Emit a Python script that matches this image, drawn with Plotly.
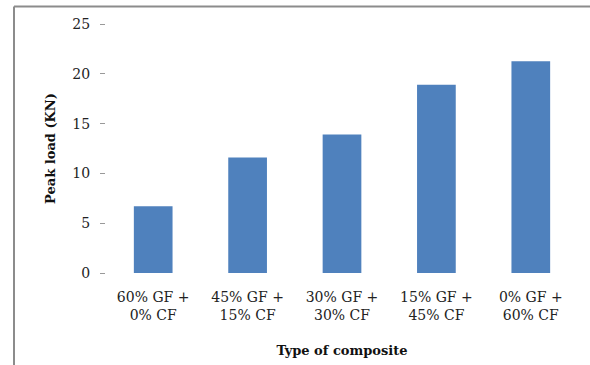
import plotly.graph_objects as go

# Composite mixes and measured peak loads
composites = [
    "60% GF +<br>0% CF",
    "45% GF +<br>15% CF",
    "30% GF +<br>30% CF",
    "15% GF +<br>45% CF",
    "0% GF +<br>60% CF",
]
peak_load_kn = [6.7, 11.6, 13.9, 18.9, 21.25]
y_ticks = [0, 5, 10, 15, 20, 25]

SERIF = "DejaVu Serif, Liberation Serif, serif"

fig = go.Figure(
    go.Bar(
        x=composites,
        y=peak_load_kn,
        marker=dict(color="#4F81BD", line=dict(width=0)),
        width=0.41,
    )
)

fig.update_layout(
    width=590,
    height=365,
    margin=dict(l=106, r=12, t=24, b=92),
    paper_bgcolor="white",
    plot_bgcolor="white",
    showlegend=False,
    font=dict(family=SERIF, size=14, color="#222"),
    bargap=0.59,
)

fig.update_xaxes(
    automargin=False,
    showline=False,
    showgrid=False,
    ticks="",
    tickfont=dict(family=SERIF, size=14, color="#222"),
    ticklabelstandoff=14,
    title=dict(
        text="<b>Type of composite</b>",
        font=dict(family=SERIF, size=13, color="#111"),
        standoff=23,
    ),
)

fig.update_yaxes(
    automargin=False,
    range=[0, 25],
    tickvals=y_ticks,
    showline=False,
    showgrid=False,
    zeroline=False,
    ticks="outside",
    ticklen=5,
    tickcolor="#999",
    tickfont=dict(family=SERIF, size=14, color="#222"),
    ticklabelstandoff=7,
    title=dict(
        text="<b>Peak load (KN)</b>",
        font=dict(family=SERIF, size=13, color="#111"),
        standoff=13,
    ),
)

# Partial frame around the chart: left and top edges
fig.add_shape(
    type="line", xref="paper", yref="paper",
    x0=-0.1949, x1=-0.1949, y0=1.0703, y1=-0.37,
    line=dict(color="#8c8c8c", width=2),
)
fig.add_shape(
    type="line", xref="paper", yref="paper",
    x0=-0.1949, x1=1.03, y0=1.0703, y1=1.0703,
    line=dict(color="#8c8c8c", width=2),
)

fig.write_html("out.html")
